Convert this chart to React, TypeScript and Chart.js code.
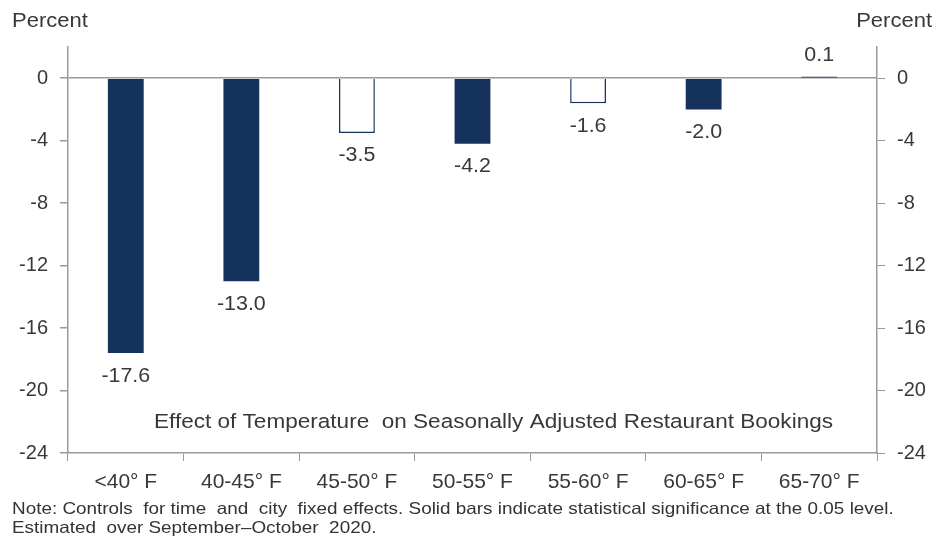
import React, { useEffect, useRef } from "react";
import { Chart, registerables } from "chart.js";

Chart.register(...registerables);

const categories = ["<40° F", "40-45° F", "45-50° F", "50-55° F", "55-60° F", "60-65° F", "65-70° F"];
const values = [-17.6, -13.0, -3.5, -4.2, -1.6, -2.0, 0.1];
const significant = [true, true, false, true, false, true, true];
const yTicks = [0, -4, -8, -12, -16, -20, -24];
const chartTitle = "Effect of Temperature  on Seasonally Adjusted Restaurant Bookings";
const noteLines = [
  "Note: Controls  for time  and  city  fixed effects. Solid bars indicate statistical significance at the 0.05 level.",
  "Estimated  over September\u2013October  2020.",
];

const NAVY = "#15325c";
const TEXT = "#383838";
const AXIS = "#9a9a9a";
const FONT = "'Liberation Sans', Arial, sans-serif";

function stretchedText(ctx: any, text: string, x: number, y: number, sx: number) {
  ctx.save();
  ctx.translate(x, y);
  ctx.scale(sx, 1);
  ctx.fillText(text, 0, 0);
  ctx.restore();
}

export default function App() {
  const ref = useRef<HTMLCanvasElement | null>(null);

  useEffect(() => {
    if (!ref.current) return;
    const labelsPlugin = {
      id: "extras",
      afterDatasetsDraw(chart: any) {
        const ctx = chart.ctx;
        const meta = chart.getDatasetMeta(0);
        ctx.save();
        ctx.fillStyle = TEXT;
        ctx.font = `20px ${FONT}`;
        ctx.textAlign = "center";
        ctx.textBaseline = "middle";
        meta.data.forEach((bar: any, i: number) => {
          const v = values[i];
          const y = v < 0 ? bar.y + 23 : bar.y - 21;
          stretchedText(ctx, v.toFixed(1), bar.x, y, 1.07);
        });
        // in-chart title
        ctx.font = `20.5px ${FONT}`;
        stretchedText(ctx, chartTitle, 493.5, 422, 1.1);
        // Percent labels
        ctx.font = `20px ${FONT}`;
        ctx.textAlign = "left";
        stretchedText(ctx, "Percent", 12, 21, 1.1);
        ctx.textAlign = "right";
        stretchedText(ctx, "Percent", 932, 21, 1.1);
        // notes
        ctx.textAlign = "left";
        ctx.font = `16.5px ${FONT}`;
        ctx.fillStyle = "#333";
        stretchedText(ctx, noteLines[0], 12, 509, 1.145);
        stretchedText(ctx, noteLines[1], 12, 528, 1.145);
        ctx.restore();
      },
    };

    const chart = new Chart(ref.current, {
      type: "bar",
      data: {
        labels: categories,
        datasets: [
          {
            data: values,
            backgroundColor: significant.map((s) => (s ? NAVY : "#ffffff")),
            borderColor: NAVY,
            borderWidth: significant.map((s) => (s ? 0 : 1.5)),
            barPercentage: 0.31,
            categoryPercentage: 1,
          },
        ],
      },
      options: {
        animation: false,
        responsive: false,
        maintainAspectRatio: false,
        layout: { padding: { top: 47, left: 0, right: 0, bottom: 0 } },
        plugins: { legend: { display: false }, tooltip: { enabled: false }, title: { display: false } },
        scales: {
          x: {
            offset: true,
            grid: { offset: true, drawOnChartArea: false, tickLength: 8, color: AXIS, tickColor: AXIS },
            border: { color: AXIS, width: 1.5 },
            ticks: { color: TEXT, font: { size: 21, family: FONT }, padding: 9, maxRotation: 0 },
            afterFit: (s: any) => { s.height = 87; },
          },
          y: {
            position: "left",
            min: -24,
            max: 2,
            afterBuildTicks: (s: any) => { s.ticks = yTicks.map((v) => ({ value: v })); },
            grid: {
              color: (c: any) => (c.tick && c.tick.value === 0 ? AXIS : "rgba(0,0,0,0)"),
              tickColor: AXIS,
              tickLength: 8,
              lineWidth: 1.5,
            },
            border: { color: AXIS, width: 1.5 },
            ticks: { color: TEXT, font: { size: 20, family: FONT }, padding: 12 },
            afterFit: (s: any) => { s.width = 68; },
          },
          y2: {
            position: "right",
            min: -24,
            max: 2,
            afterBuildTicks: (s: any) => { s.ticks = yTicks.map((v) => ({ value: v })); },
            grid: { drawOnChartArea: false, tickColor: AXIS, tickLength: 8, color: AXIS },
            border: { color: AXIS, width: 1.5 },
            ticks: { color: TEXT, font: { size: 20, family: FONT }, padding: 12 },
            afterFit: (s: any) => { s.width = 60; },
          },
        },
      },
      plugins: [labelsPlugin],
    });
    return () => chart.destroy();
  }, []);

  return (
    <div style={{ position: "fixed", left: 0, top: 0, width: 937, height: 540, background: "#fff" }}>
      <canvas ref={ref} width={937} height={540} style={{ width: 937, height: 540 }} />
    </div>
  );
}
